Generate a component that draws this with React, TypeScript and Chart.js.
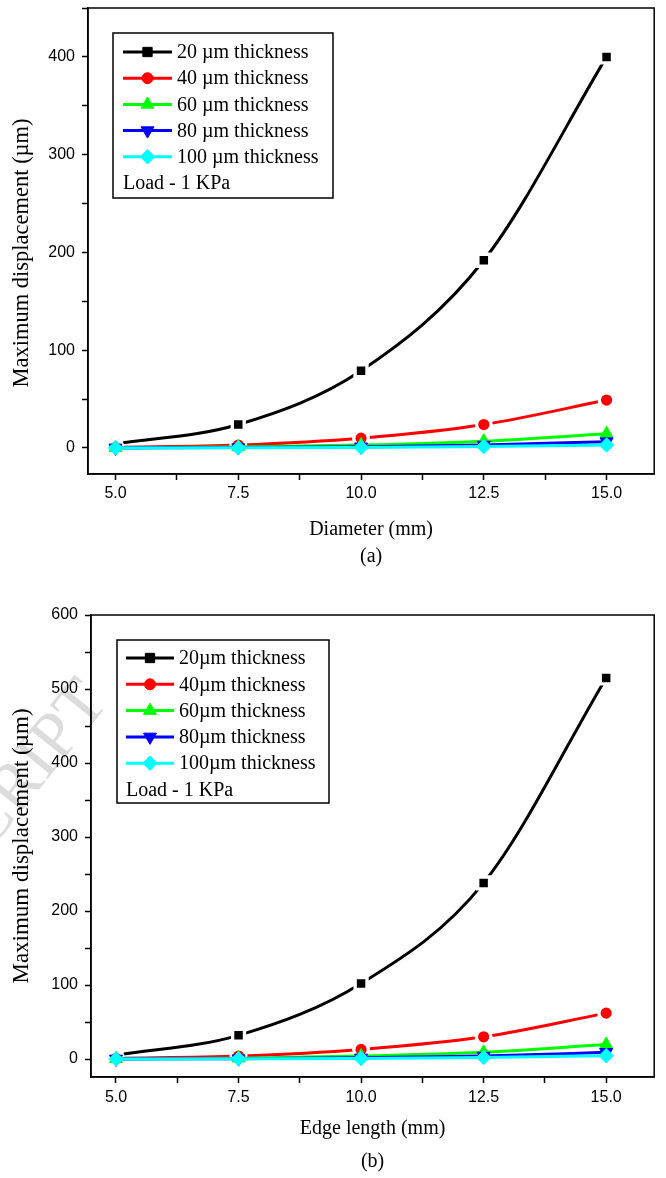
import React, { useEffect, useRef } from 'react';
import { Chart, registerables } from 'chart.js';
import { drawPoint } from 'chart.js/helpers';

Chart.register(...registerables);

// ---------- data ----------
const xValues = [5.0, 7.5, 10.0, 12.5, 15.0];
const xTickLabels = ['5.0', '7.5', '10.0', '12.5', '15.0'];

const labelsA = ['20 µm thickness', '40 µm thickness', '60 µm thickness', '80 µm thickness', '100 µm thickness'];
const labelsB = ['20µm thickness', '40µm thickness', '60µm thickness', '80µm thickness', '100µm thickness'];

const a20 = [4, 24, 79, 192, 400];
const a40 = [0.6, 3, 10, 24, 49];
const a60 = [0.2, 1, 3, 7, 14.5];
const a80 = [0.1, 0.4, 1.3, 3, 6.5];
const a100 = [0.05, 0.2, 0.6, 1.5, 3];

const b20 = [5, 32, 102, 238, 515];
const b40 = [0.8, 4, 13, 30, 62];
const b60 = [0.3, 1.2, 4, 9, 19.5];
const b80 = [0.1, 0.5, 1.6, 4, 9];
const b100 = [0.05, 0.25, 0.8, 2, 4.5];

const yTickLabelsA = [0, 100, 200, 300, 400];
const yTickLabelsB = [0, 100, 200, 300, 400, 500, 600];

const xTitleA = 'Diameter (mm)';
const xTitleB = 'Edge length (mm)';
const captionA = '(a)';
const captionB = '(b)';
const yTitle = 'Maximum displacement (µm)';
const loadNote = 'Load - 1 KPa';
const watermarkText = 'SCRIPT';

// ---------- styles ----------
const COLORS = ['#000000', '#ff0000', '#00ff00', '#0000ff', '#00ffff'];
const POINT_STYLES = ['rect', 'circle', 'triangle', 'triangle', 'rectRot'];
const POINT_ROT = [0, 0, 0, 180, 0];
const POINT_R = [6.6, 5.5, 7.5, 7.5, 7.2];
const HALO = [true, true, false, false, false];
const SERIF = '"Liberation Serif", "Times New Roman", serif';
const SANS = '"Liberation Sans", Arial, sans-serif';

const framePlugin = {
  id: 'frame',
  afterDatasetsDraw(chart: any) {
    const { ctx, chartArea: a } = chart;
    ctx.save();
    ctx.strokeStyle = '#000';
    ctx.lineWidth = 1.5;
    ctx.strokeRect(a.left, a.top, a.right - a.left, a.bottom - a.top);
    ctx.restore();
  },
};

const legendPlugin = {
  id: 'boxLegend',
  afterDraw(chart: any, _args: any, opts: any) {
    const { ctx } = chart;
    ctx.save();
    ctx.lineWidth = 1.5;
    ctx.strokeStyle = '#000';
    ctx.strokeRect(opts.left, opts.top, opts.right - opts.left, opts.bottom - opts.top);
    ctx.font = `20px ${SERIF}`;
    ctx.textBaseline = 'middle';
    ctx.textAlign = 'left';
    const mid = (opts.lineX0 + opts.lineX1) / 2;
    chart.data.datasets.forEach((ds: any, i: number) => {
      const y = opts.rowY + i * opts.rowStep;
      ctx.strokeStyle = ds.borderColor;
      ctx.lineWidth = 3;
      ctx.beginPath();
      ctx.moveTo(opts.lineX0, y);
      ctx.lineTo(opts.lineX1, y);
      ctx.stroke();
      ctx.fillStyle = ds.borderColor;
      ctx.strokeStyle = ds.borderColor;
      ctx.lineWidth = 1;
      drawPoint(ctx, { pointStyle: POINT_STYLES[i], rotation: POINT_ROT[i], radius: POINT_R[i], borderWidth: 1 } as any, mid, y);
      ctx.fillStyle = '#000';
      ctx.fillText(ds.label, opts.textX, y + 1);
    });
    ctx.fillStyle = '#000';
    ctx.fillText(opts.note, opts.lineX0, opts.rowY + 5 * opts.rowStep + 1);
    ctx.restore();
  },
};

// y-axis title drawn by hand so that its centre can sit where the reference puts it
const yTitlePlugin = {
  id: 'yTitle',
  afterDraw(chart: any, _args: any, opts: any) {
    const { ctx, chartArea: a } = chart;
    ctx.save();
    ctx.translate(opts.x, (a.top + a.bottom) / 2 + opts.dy);
    ctx.rotate(-Math.PI / 2);
    ctx.font = `${opts.size}px ${SERIF}`;
    ctx.textAlign = 'center';
    ctx.textBaseline = 'middle';
    ctx.fillStyle = '#000';
    ctx.fillText(yTitle, 0, 0);
    ctx.restore();
  },
};

const watermarkPlugin = {
  id: 'watermark',
  beforeDraw(chart: any, _args: any, opts: any) {
    if (!opts || !opts.show) return;
    const { ctx } = chart;
    ctx.save();
    ctx.translate(opts.x, opts.y);
    ctx.rotate((opts.angle * Math.PI) / 180);
    ctx.font = `68px ${SERIF}`;
    ctx.textAlign = 'right';
    ctx.textBaseline = 'alphabetic';
    ctx.fillStyle = '#dcdcdc';
    ctx.fillText(watermarkText, 0, 0);
    ctx.restore();
  },
};

function buildConfig(p: any) {
  const datasets = p.series.map((vals: number[], i: number) => ({
    label: p.labels[i],
    data: xValues.map((x, k) => ({ x, y: vals[k] })),
    borderColor: COLORS[i],
    backgroundColor: COLORS[i],
    borderWidth: 3,
    pointStyle: POINT_STYLES[i],
    pointRotation: POINT_ROT[i],
    pointRadius: HALO[i] ? POINT_R[i] + 1.8 : POINT_R[i],
    pointBackgroundColor: COLORS[i],
    pointBorderColor: HALO[i] ? '#ffffff' : COLORS[i],
    pointBorderWidth: HALO[i] ? 3.4 : 1,
    cubicInterpolationMode: 'monotone',
    fill: false,
    order: 5 - i,
  }));
  return {
    type: 'line',
    data: { datasets },
    plugins: [framePlugin, legendPlugin, watermarkPlugin, yTitlePlugin],
    options: {
      responsive: false,
      animation: false,
      events: [],
      layout: { padding: { top: p.padTop, right: p.padRight, left: 0, bottom: 0 } },
      plugins: {
        legend: { display: false },
        tooltip: { enabled: false },
        boxLegend: p.legend,
        watermark: p.watermark,
        yTitle: p.yTitle,
      },
      scales: {
        x: {
          type: 'linear',
          min: p.xMin,
          max: p.xMax,
          afterFit: (s: any) => {
            s.height = p.xHeight;
            s.paddingLeft = 0;
            s.paddingRight = 0;
            s.paddingTop = 0;
            s.paddingBottom = 0;
          },
          ticks: {
            stepSize: 1.25,
            includeBounds: false,
            autoSkip: false,
            maxRotation: 0,
            padding: p.xTickPad,
            color: '#000',
            font: { family: SANS, size: 16 },
            callback: (v: any) => {
              const k = xValues.findIndex((x) => Math.abs(x - Number(v)) < 1e-6);
              return k >= 0 ? xTickLabels[k] : '';
            },
          },
          grid: { drawOnChartArea: false, drawTicks: true, tickLength: 6, tickColor: '#000', tickWidth: 1.5, color: '#000' },
          border: { display: true, color: '#000', width: 1.5 },
          title: {
            display: true,
            text: [p.xTitle, p.caption],
            color: '#000',
            font: { family: SERIF, size: 20, lineHeight: p.titleLH },
            padding: { top: 0, bottom: p.titlePadBottom },
          },
        },
        y: {
          type: 'linear',
          min: p.yMin,
          max: p.yMax,
          afterFit: (s: any) => {
            s.width = p.yWidth;
            s.paddingLeft = 0;
            s.paddingRight = 0;
            s.paddingTop = 0;
            s.paddingBottom = 0;
          },
          ticks: {
            stepSize: 50,
            includeBounds: false,
            autoSkip: false,
            padding: 7,
            color: '#000',
            font: { family: SANS, size: 16 },
            callback: (v: any) => (p.yLabels.includes(Number(v)) ? String(v) : ''),
          },
          grid: { drawOnChartArea: false, drawTicks: true, tickLength: 6, tickColor: '#000', tickWidth: 1.5, color: '#000' },
          border: { display: true, color: '#000', width: 1.5 },
          title: { display: false },
        },
      },
    },
  };
}

// chart 1 canvas starts 4px above the page so that its frame top (canvas y 12) lands on page y 8
const panelA = {
  top: -4,
  height: 578,
  series: [a20, a40, a60, a80, a100],
  labels: labelsA,
  yLabels: yTickLabelsA,
  xMin: 4.44, xMax: 15.97, yMin: -26.6, yMax: 450,
  padTop: 12, padRight: 6, yWidth: 88, xHeight: 100, xTickPad: 4,
  xTitle: xTitleA, caption: captionA, titleLH: 1.35, titlePadBottom: 3.5,
  legend: { left: 113, top: 37, right: 333, bottom: 202, rowY: 56, rowStep: 26.2, lineX0: 123, lineX1: 172, textX: 177, note: loadNote },
  watermark: { show: false },
  yTitle: { x: 22, dy: 12, size: 22.5 },
};

const panelB = {
  top: 574,
  height: 604,
  series: [b20, b40, b60, b80, b100],
  labels: labelsB,
  yLabels: yTickLabelsB,
  xMin: 4.49, xMax: 15.98, yMin: -24.3, yMax: 600,
  padTop: 41, padRight: 7, yWidth: 91, xHeight: 101, xTickPad: 5,
  xTitle: xTitleB, caption: captionB, titleLH: 1.65, titlePadBottom: 0,
  legend: { left: 117, top: 66, right: 329, bottom: 229, rowY: 84, rowStep: 26.3, lineX0: 126, lineX1: 174, textX: 179, note: loadNote },
  watermark: { show: true, x: 110, y: 128, angle: -51 },
  yTitle: { x: 22, dy: 0, size: 23 },
};

function Panel({ panel }: { panel: any }) {
  const ref = useRef<HTMLCanvasElement>(null);
  useEffect(() => {
    if (!ref.current) return;
    const chart = new Chart(ref.current, buildConfig(panel) as any);
    return () => chart.destroy();
  }, [panel]);
  return (
    <canvas
      ref={ref}
      width={666}
      height={panel.height}
      style={{ position: 'absolute', left: 0, top: panel.top, width: 666, height: panel.height, display: 'block' }}
    />
  );
}

export default function App() {
  return (
    <div style={{ position: 'absolute', left: 0, top: 0, width: 666, height: 1178, background: '#fff', overflow: 'hidden' }}>
      <Panel panel={panelA} />
      <Panel panel={panelB} />
    </div>
  );
}
